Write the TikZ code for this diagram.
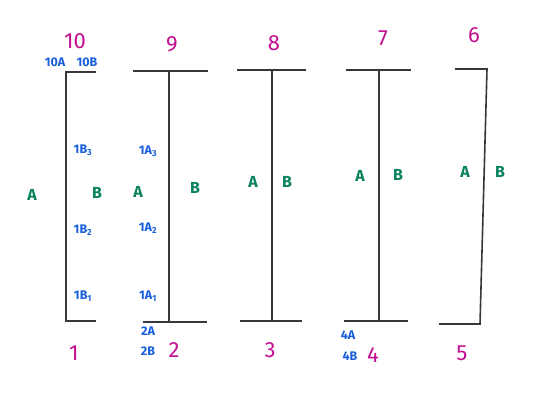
\documentclass[tikz,border=0pt]{standalone}
\usepackage{fontspec}
\setmainfont{Fira Sans}
\definecolor{post}{RGB}{55,55,60}
\definecolor{numc}{RGB}{195,15,145}
\definecolor{pinc}{RGB}{25,95,220}
\definecolor{sidec}{RGB}{10,130,95}
\begin{document}
\begin{tikzpicture}[x=1pt,y=-1pt,
  postline/.style={draw=post,line width=1.6pt},
  num/.style={text=numc,font=\fontsize{22}{22}\selectfont,inner sep=0pt},
  pin/.style={text=pinc,font=\fontsize{12.5}{12.5}\selectfont\bfseries,inner sep=0pt},
  side/.style={text=sidec,font=\fontsize{16}{16}\selectfont\bfseries,inner sep=0pt}]
\useasboundingbox[fill=white] (0,0) rectangle (551,406);

% post 1
\coordinate (t1) at (66,72); \coordinate (t1r) at (96,72);
\coordinate (b1) at (66,321); \coordinate (b1r) at (96,321);
\draw[postline] (t1r) -- (t1) -- (b1) -- (b1r);
% post 2
\coordinate (t2l) at (133,71); \coordinate (t2) at (169,71); \coordinate (t2r) at (208,71);
\coordinate (b2l) at (143,322); \coordinate (b2) at (169,322); \coordinate (b2r) at (207,322);
\draw[postline] (t2l) -- (t2r); \draw[postline] (b2l) -- (b2r); \draw[postline] (t2) -- (b2);
% post 3
\coordinate (t3l) at (237,70); \coordinate (t3) at (272,70); \coordinate (t3r) at (306,70);
\coordinate (b3l) at (240,321); \coordinate (b3) at (272,321); \coordinate (b3r) at (302,321);
\draw[postline] (t3l) -- (t3r); \draw[postline] (b3l) -- (b3r); \draw[postline] (t3) -- (b3);
% post 4
\coordinate (t4l) at (346,70); \coordinate (t4) at (379,70); \coordinate (t4r) at (411,70);
\coordinate (b4l) at (344,321); \coordinate (b4) at (379,321); \coordinate (b4r) at (408,321);
\draw[postline] (t4l) -- (t4r); \draw[postline] (b4l) -- (b4r); \draw[postline] (t4) -- (b4);
% post 5
\coordinate (t5l) at (455,69); \coordinate (t5) at (487,69);
\coordinate (b5l) at (439,324); \coordinate (b5) at (480,324);
\draw[postline] (t5l) -- (t5) -- (b5) -- (b5l);

% numbers
\node[num] (n10) at (75,41) {10};
\node[num] (n9) at (172,44) {9};
\node[num] (n8) at (274,43) {8};
\node[num] (n7) at (383,38) {7};
\node[num] (n6) at (474,35) {6};
\node[num] (n1) at (74,353) {1};
\node[num] (n2) at (174,350) {2};
\node[num] (n3) at (270,350) {3};
\node[num] (n4) at (373,355) {4};
\node[num] (n5) at (462,353) {5};

% pin labels
\node[pin] (p10a) at (55,62) {10A};
\node[pin] (p10b) at (87,62) {10B};
\node[pin] (p1b3) at (83,150) {1B\textsubscript{3}};
\node[pin] (p1b2) at (83,230) {1B\textsubscript{2}};
\node[pin] (p1b1) at (83,296) {1B\textsubscript{1}};
\node[pin] (p1a3) at (148,151) {1A\textsubscript{3}};
\node[pin] (p1a2) at (148,228) {1A\textsubscript{2}};
\node[pin] (p1a1) at (148,296) {1A\textsubscript{1}};
\node[pin] (p2a) at (148,331) {2A};
\node[pin] (p2b) at (148,351) {2B};
\node[pin] (p4a) at (348,335) {4A};
\node[pin] (p4b) at (350,356) {4B};

% side labels
\node[side] (s1a) at (32,195) {A};
\node[side] (s1b) at (97,193) {B};
\node[side] (s2a) at (138,192) {A};
\node[side] (s2b) at (195,188) {B};
\node[side] (s3a) at (253,182) {A};
\node[side] (s3b) at (287,182) {B};
\node[side] (s4a) at (360,176) {A};
\node[side] (s4b) at (398,175) {B};
\node[side] (s5a) at (465,172) {A};
\node[side] (s5b) at (500,172) {B};
\end{tikzpicture}
\end{document}
